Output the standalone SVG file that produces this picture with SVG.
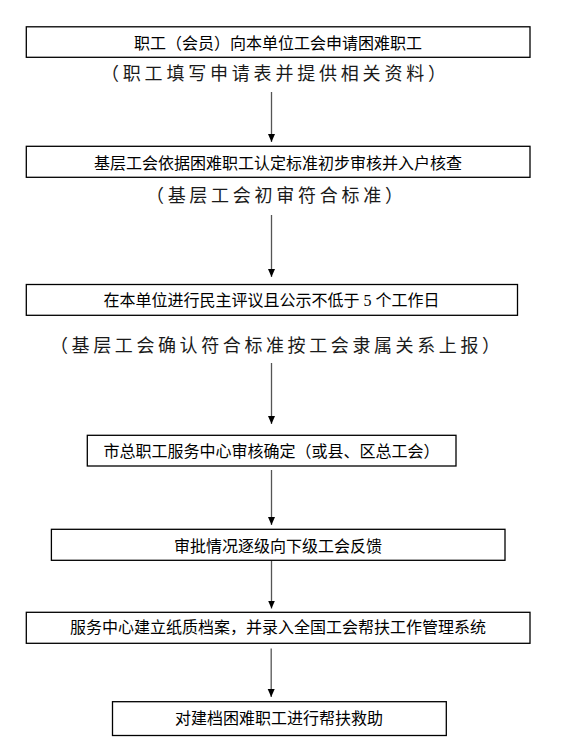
<svg xmlns="http://www.w3.org/2000/svg" width="565" height="750" viewBox="0 0 565 750">
<style>
.box{fill:#fff;stroke:#000;stroke-width:1.3}
.t{font-family:"Noto Sans CJK SC","Noto Sans",sans-serif;font-size:16px;fill:#000;text-anchor:middle}
.s{font-family:"Noto Sans CJK SC","Noto Sans",sans-serif;font-size:18px;fill:#1a1a1a;text-anchor:middle}
.c{stroke:#555;stroke-width:1.3;fill:none}
</style>
<defs>
<marker id="ah" viewBox="0 0 8 8" refX="8" refY="4" markerWidth="8" markerHeight="8" markerUnits="userSpaceOnUse" orient="auto">
<path d="M0,0.5 L8,4 L0,7.5 z" fill="#000"/>
</marker>
</defs>
<rect width="565" height="750" fill="#fff"/>
<g id="connectors">
<line class="c" x1="271.5" y1="92" x2="271.5" y2="142" marker-end="url(#ah)"/>
<line class="c" x1="271.5" y1="215" x2="271.5" y2="277" marker-end="url(#ah)"/>
<line class="c" x1="271.5" y1="363" x2="271.5" y2="424" marker-end="url(#ah)"/>
<line class="c" x1="271.5" y1="470" x2="271.5" y2="525" marker-end="url(#ah)"/>
<line class="c" x1="271.5" y1="560.5" x2="271.5" y2="608.5" marker-end="url(#ah)"/>
<line class="c" x1="271.2" y1="648.5" x2="271.2" y2="697" marker-end="url(#ah)"/>
</g>
<g id="n1">
<rect class="box" x="26.3" y="26.8" width="503.7" height="30.5"/>
<text class="t" x="278" y="49">职工（会员）向本单位工会申请困难职工</text>
</g>
<g id="l1">
<text class="s" x="273.5" y="80" textLength="345" lengthAdjust="spacing">（职工填写申请表并提供相关资料）</text>
</g>
<g id="n2">
<rect class="box" x="26.3" y="146.3" width="503.7" height="31"/>
<text class="t" x="278" y="168.5">基层工会依据困难职工认定标准初步审核并入户核查</text>
</g>
<g id="l2">
<text class="s" x="274.4" y="202" textLength="257" lengthAdjust="spacing">（基层工会初审符合标准）</text>
</g>
<g id="n3">
<rect class="box" x="26.3" y="284.5" width="491.2" height="30.8"/>
<text class="t" x="271.5" y="306">在本单位进行民主评议且公示不低于<tspan font-family="Liberation Serif, serif"> 5 </tspan>个工作日</text>
</g>
<g id="l3">
<text class="s" x="275" y="352" textLength="450" lengthAdjust="spacing">（基层工会确认符合标准按工会隶属关系上报）</text>
</g>
<g id="n4">
<rect class="box" x="87.3" y="435.3" width="368.7" height="30.7"/>
<text class="t" x="271.5" y="457">市总职工服务中心审核确定（或县、区总工会）</text>
</g>
<g id="n5">
<rect class="box" x="51.4" y="529.3" width="453.6" height="31"/>
<text class="t" x="278" y="551.5">审批情况逐级向下级工会反馈</text>
</g>
<g id="n6">
<rect class="box" x="26.3" y="612.3" width="503.7" height="31"/>
<text class="t" x="278" y="633">服务中心建立纸质档案，并录入全国工会帮扶工作管理系统</text>
</g>
<g id="n7">
<rect class="box" x="112.5" y="701.7" width="333.8" height="33.8"/>
<text class="t" x="279" y="724">对建档困难职工进行帮扶救助</text>
</g>
</svg>
